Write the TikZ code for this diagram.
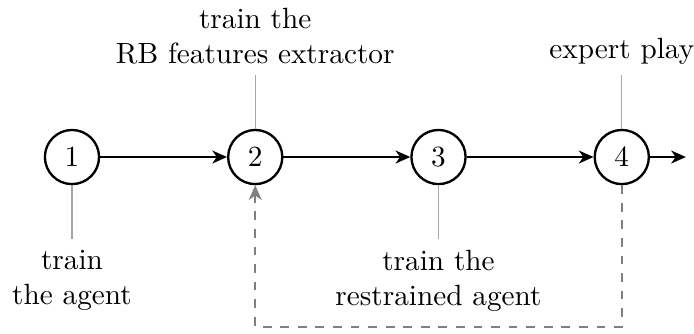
\documentclass[tikz,border=0pt]{standalone}
\usepackage{tikz}
\usetikzlibrary{positioning, arrows.meta}

\begin{document}
\begin{tikzpicture}[
    stage/.style={circle, draw=black, thick, minimum size=6.5mm, inner sep=0pt, on grid},
    note/.style={align=center},
    noteline/.style={thin, gray!70},
    >={Stealth[length=5pt, width=4.4pt, inset=1.5pt]},
  ]
  \useasboundingbox (-0.864,-2.113) rectangle (7.467,1.885);   % fix the margins
            \node [stage] (n1) at (0,0) {$1$};                  % first stage
            \node [stage, right=2.2cm of n1] (n2) {$2$};        % second stage
            \node [stage, right=2.2cm of n2] (n3) {$3$};        % third stage
            \node [stage, right=2.2cm of n3] (n4) {$4$};        % fourth stage
            \coordinate [right=0.43cm of n4.east] (out);        % free end of last arrow
            \draw [thick, black, ->] (n1) -- (n2);              % stage arrows
            \draw [thick, black, ->] (n2) -- (n3);
            \draw [thick, black, ->] (n3) -- (n4);
            \draw [thick, black, ->] (n4) -- (out);
            \node [note, below=0.65cm of n1] (t1) {train\\the agent};              % label stage 1
            \node [note, above=0.65cm of n2] (t2) {train the\\RB features extractor}; % label stage 2
            \node [note, below=0.65cm of n3] (t3) {train the\\restrained agent};   % label stage 3
            \node [note, above=0.65cm of n4] (t4) {expert play};                   % label stage 4
            \draw [noteline] (n1) -- (t1);
            \draw [noteline] (n2) -- (t2);
            \draw [noteline] (n3) -- (t3);
            \draw [noteline] (n4) -- (t4);
            \draw [thick, gray, dashed, ->] (n4.south) -- ++(0,-1.7) -| (n2.south); % loop back
    \end{tikzpicture}
\end{document}
